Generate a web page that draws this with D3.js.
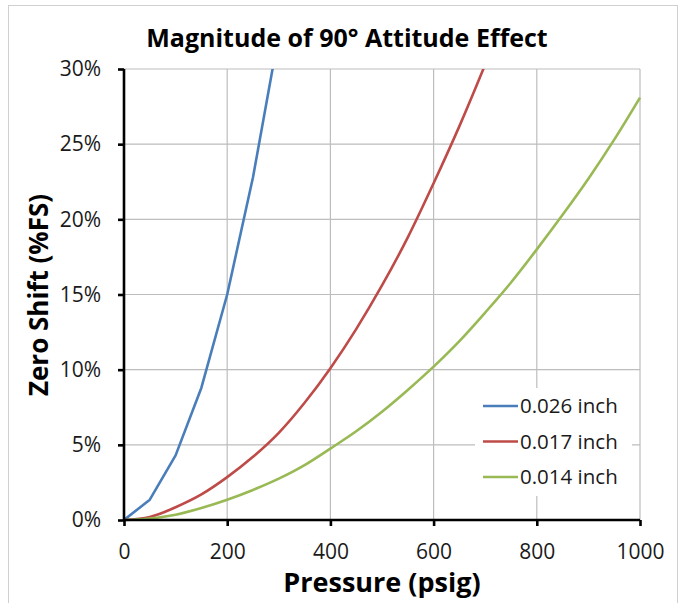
<!DOCTYPE html>
<html><head><meta charset="utf-8">
<script src="https://cdn.jsdelivr.net/npm/d3@7"></script>
<style>body{margin:0;background:#fff}svg{display:block}text{font-family:"Open Sans",Lato,sans-serif}</style>
</head><body>
<script>
const pressure = [0,50,100,150,200,250,300,350,400,450,500,550,600,650,700,750,800,850,900,950,1000];
const blueX = [0,50,100,150,200,250,300];
const blueY = [0,1.35,4.3,8.8,15.0,22.8,32.3];
const redX = [0,50,100,150,200,250,300,350,400,450,500,550,600,650,700,750];
const redY = [0,0.2,0.85,1.7,2.85,4.2,5.8,7.8,10.1,12.7,15.6,18.8,22.4,26.2,30.3,34.6];
const greenY = [0,0.1,0.35,0.8,1.35,2.0,2.75,3.65,4.75,5.9,7.2,8.65,10.2,11.9,13.8,15.8,18.0,20.3,22.7,25.3,28.1];
const seriesNames = ["0.026 inch","0.017 inch","0.014 inch"];
const colors = ["#4a7ebb","#be4b48","#98b954"];
const xTicks = [0,200,400,600,800,1000];
const yTicks = [0,5,10,15,20,25,30];

const W=686,H=603;
const svg=d3.select("body").append("svg").attr("width",W).attr("height",H);
svg.append("rect").attr("x",8.5).attr("y",5.5).attr("width",669).attr("height",610).attr("fill","#fff").attr("stroke","#d0d0d0");

const x=d3.scaleLinear().domain([0,1000]).range([124,640]);
const y=d3.scaleLinear().domain([0,30]).range([520,69]);

// grid
svg.append("g").selectAll("line").data(yTicks.slice(1)).join("line")
 .attr("x1",124).attr("x2",640).attr("y1",d=>y(d)).attr("y2",d=>y(d)).attr("stroke","#bdbdbd").attr("stroke-width",1.2);
svg.append("g").selectAll("line").data(xTicks.slice(1)).join("line")
 .attr("x1",d=>x(d)).attr("x2",d=>x(d)).attr("y1",69).attr("y2",520).attr("stroke","#bdbdbd").attr("stroke-width",1.2);

svg.append("clipPath").attr("id","clip").append("rect").attr("x",124).attr("y",69).attr("width",520).attr("height",455);
const lineLin=d3.line().x(d=>x(d[0])).y(d=>y(d[1]));
const lineSmooth=d3.line().x(d=>x(d[0])).y(d=>y(d[1])).curve(d3.curveMonotoneX);
const data=[blueX.map((v,i)=>[v,blueY[i]]), redX.map((v,i)=>[v,redY[i]]), pressure.map((v,i)=>[v,greenY[i]])];
const g=svg.append("g").attr("clip-path","url(#clip)");
data.forEach((d,i)=>g.append("path").datum(d).attr("d",i===0?lineLin:lineSmooth).attr("fill","none").attr("stroke",colors[i]).attr("stroke-width",2.6).attr("stroke-linejoin","round"));

// axes
const xa=svg.append("g").attr("transform","translate(0,520)").call(d3.axisBottom(x).tickValues(xTicks).tickSize(6).tickPadding(18).tickFormat(d3.format("d")));
const ya=svg.append("g").attr("transform","translate(124,0)").call(d3.axisLeft(y).tickValues(yTicks).tickSize(6).tickPadding(17).tickFormat(d=>d+"%"));
[xa,ya].forEach(a=>{a.selectAll("path").attr("stroke","#000").attr("stroke-width",2.6);a.selectAll("line").attr("stroke","#000").attr("stroke-width",2.6);a.selectAll("text").attr("font-size",21).attr("fill","#1a1a1a").attr("font-family","'Open Sans',sans-serif");});
xa.select(".domain").attr("d","M124,0H640");
ya.select(".domain").attr("d","M0,69V520");

// legend
const lg=svg.append("g");
lg.append("rect").attr("x",475).attr("y",388).attr("width",157).attr("height",108).attr("fill","#fff");
seriesNames.forEach((n,i)=>{
 const yy=406+i*35.5;
 lg.append("line").attr("x1",483).attr("x2",518).attr("y1",yy).attr("y2",yy).attr("stroke",colors[i]).attr("stroke-width",2.6);
 lg.append("text").attr("x",520).attr("y",yy).attr("dy","0.36em").attr("font-size",20.5).attr("fill","#1a1a1a").text(n);
});

svg.append("text").attr("x",347).attr("y",47).attr("text-anchor","middle").attr("font-size",25).attr("font-weight","bold").text("Magnitude of 90° Attitude Effect");
svg.append("text").attr("x",382).attr("y",592).attr("text-anchor","middle").attr("font-size",27).attr("font-weight","bold").text("Pressure (psig)");
svg.append("text").attr("transform","translate(48,295) rotate(-90)").attr("text-anchor","middle").attr("font-size",26).attr("font-weight","bold").text("Zero Shift (%FS)");
</script>
</body></html>
